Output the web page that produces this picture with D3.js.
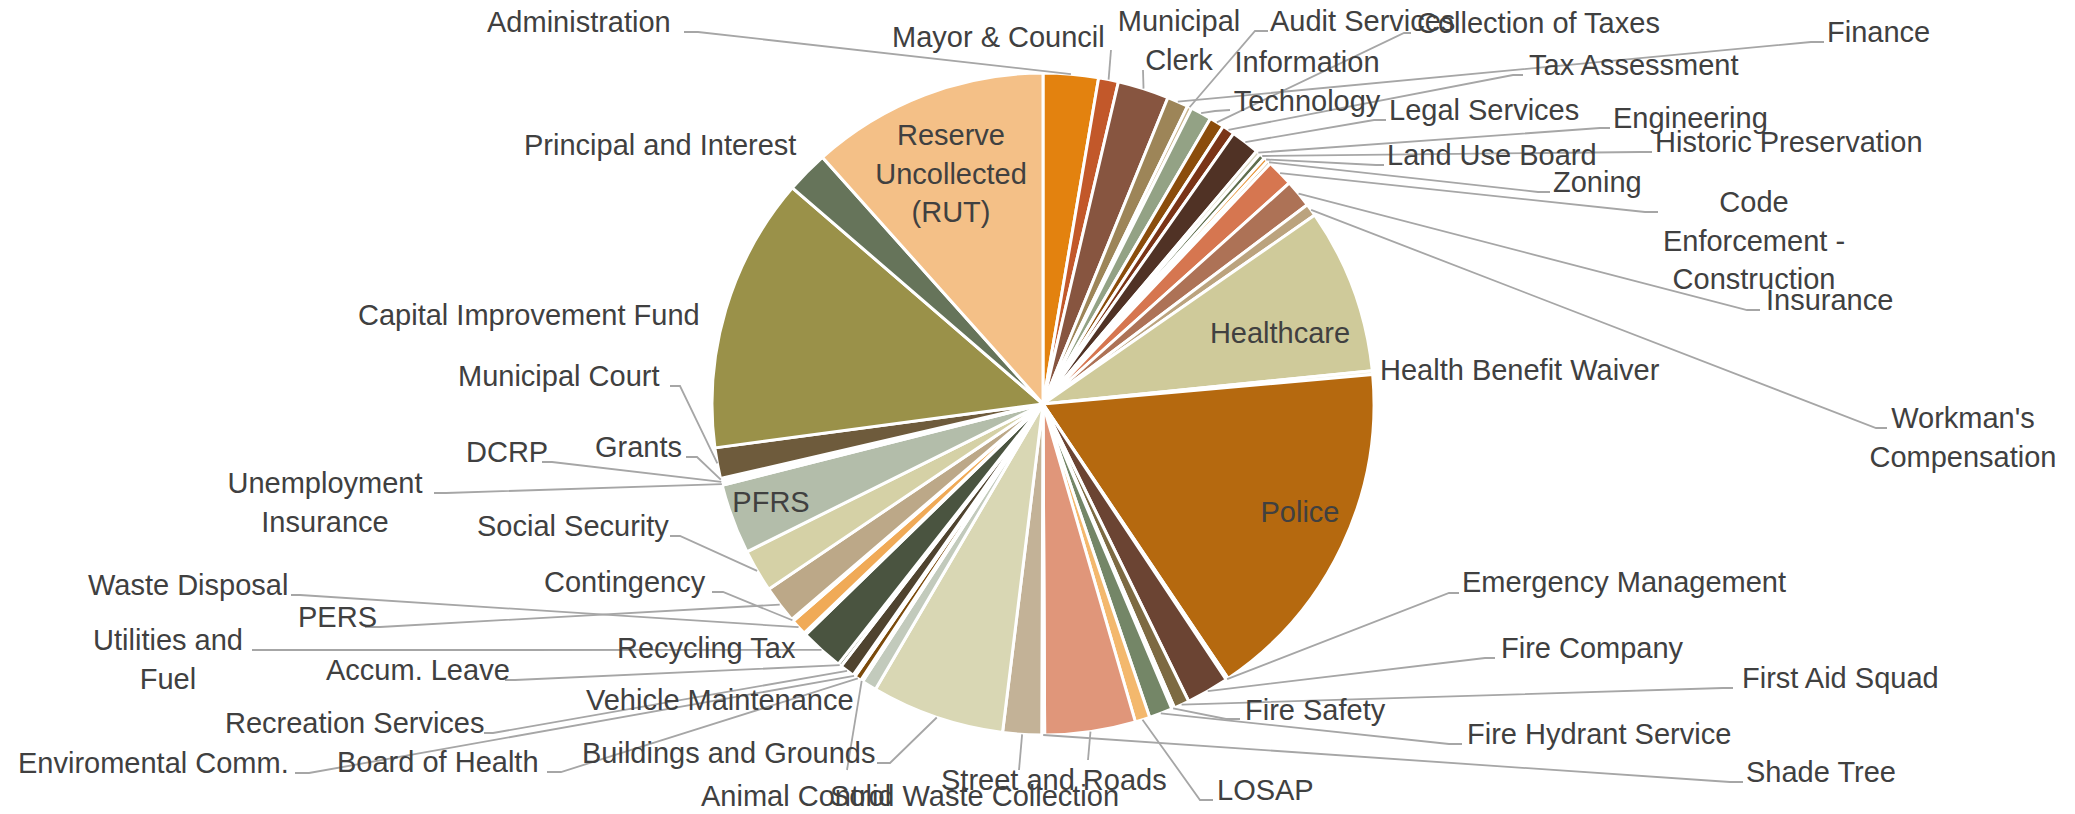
<!DOCTYPE html>
<html><head><meta charset="utf-8">
<script src="https://cdn.jsdelivr.net/npm/d3@7"></script>
<style>html,body{margin:0;padding:0;background:#fff;overflow:hidden;}</style>
</head><body>
<svg id="chart" width="2075" height="814"></svg>
<script>
// ---------- DATA ----------
const categories = [
  "Administration","Mayor & Council","Municipal Clerk","Finance","Audit Services",
  "Information Technology","Collection of Taxes","Tax Assessment","Legal Services","Engineering",
  "Historic Preservation","Land Use Board","Zoning","Code Enforcement - Construction","Insurance",
  "Workman's Compensation","Healthcare","Health Benefit Waiver","Police","Emergency Management",
  "Fire Company","First Aid Squad","Fire Safety","Fire Hydrant Service","LOSAP",
  "Street and Roads","Shade Tree","Solid Waste Collection","Buildings and Grounds","Vehicle Maintenance",
  "Animal Control","Board of Health","Enviromental Comm.","Recreation Services","Accum. Leave",
  "Utilities and Fuel","Recycling Tax","Waste Disposal","Contingency","PERS",
  "Social Security","PFRS","Unemployment Insurance","DCRP","Grants",
  "Municipal Court","Capital Improvement Fund","Principal and Interest","Reserve Uncollected (RUT)"
];
// share of total budget (%)
const values = [
  2.69,0.97,2.50,1.03,0.22,
  1.03,0.72,0.61,1.39,0.22,
  0.28,0.22,0.17,1.31,1.36,
  0.61,8.06,0.19,16.97,0.11,
  2.08,0.75,0.14,1.14,0.72,
  4.42,0.14,1.89,6.50,0.72,
  0.11,0.33,0.11,0.72,0.17,
  2.11,0.11,0.78,0.11,1.83,
  2.08,3.42,0.11,0.11,0.11,
  1.50,13.44,2.06,11.61
];
// label text as displayed (line breaks)
const labelText = [
  "Administration","Mayor & Council","Municipal\nClerk","Finance","Audit Services",
  "Information\nTechnology","Collection of Taxes","Tax Assessment","Legal Services","Engineering",
  "Historic Preservation","Land Use Board","Zoning","Code\nEnforcement -\nConstruction","Insurance",
  "Workman's\nCompensation","Healthcare","Health Benefit Waiver","Police","Emergency Management",
  "Fire Company","First Aid Squad","Fire Safety","Fire Hydrant Service","LOSAP",
  "Street and Roads","Shade Tree","Solid Waste Collection","Buildings and Grounds","Vehicle Maintenance",
  "Animal Control","Board of Health","Enviromental Comm.","Recreation Services","Accum. Leave",
  "Utilities and\nFuel","Recycling Tax","Waste Disposal","Contingency","PERS",
  "Social Security","PFRS","Unemployment\nInsurance","DCRP","Grants",
  "Municipal Court","Capital Improvement Fund","Principal and Interest","Reserve\nUncollected\n(RUT)"
];

// ---------- STYLE ----------
const palette = [
  "#E3820F","#C2582A","#875540","#9D8558","#C9B48C",
  "#93A285","#8B4D0C","#7A3417","#503225","#D8D6C0",
  "#5F6E4D","#E8963A","#C8A060","#D67650","#AD7256",
  "#BBA37E","#CFCA9A","#EDEBD8","#B5690F","#A36A3A",
  "#6B4433","#7D6A42","#B8C4AE","#748667","#F3B86D",
  "#E0967A","#C8B090","#C3B297","#D9D7B4","#C2CABC",
  "#9C7A50","#7B4A0B","#8C7A5A","#4F432F","#3E4A35",
  "#4A5440","#B5A070","#F0AA57","#C9B48E","#BCA888",
  "#D5D1A6","#B3BDAA","#E3C8A0","#C0703A","#A08060",
  "#6E5B3C","#9A9149","#66745A","#F4C087"
];

// ---------- LAYOUT (label anchors & leader stubs) ----------
// [x, firstBaseline, anchor, leaderStubPoints]
const layout = {
  "Administration":[487,32,"start",[[684,32],[698,32]]],
  "Mayor & Council":[892,47,"start",[[1111,50]]],
  "Municipal Clerk":[1179,31,"middle",[[1143,70]]],
  "Finance":[1827,42,"start",[[1824,42],[1811,42]]],
  "Audit Services":[1270,31,"start",[[1268,31],[1255,31]]],
  "Information Technology":[1307,72,"middle",[[1230,110],[1215,111]]],
  "Collection of Taxes":[1417,33,"start",[[1411,33],[1404,33]]],
  "Tax Assessment":[1529,75,"start",[[1523,75],[1513,75]]],
  "Legal Services":[1389,120,"start",[[1386,120],[1374,120]]],
  "Engineering":[1613,128,"start",[[1610,128],[1600,128]]],
  "Historic Preservation":[1655,152,"start",[[1652,152],[1640,152]]],
  "Land Use Board":[1387,165,"start",[[1384,165],[1376,165]]],
  "Zoning":[1553,192,"start",[[1550,192],[1538,192]]],
  "Code Enforcement - Construction":[1754,212,"middle",[[1658,212],[1645,212]]],
  "Insurance":[1766,310,"start",[[1760,310],[1747,310]]],
  "Workman's Compensation":[1963,428,"middle",[[1887,428],[1876,428]]],
  "Healthcare":[1280,343,"middle",null],
  "Health Benefit Waiver":[1380,380,"start",null],
  "Police":[1300,522,"middle",null],
  "Emergency Management":[1462,592,"start",[[1459,593],[1449,593]]],
  "Fire Company":[1501,658,"start",[[1495,658],[1485,658]]],
  "First Aid Squad":[1742,688,"start",[[1733,688],[1723,688]]],
  "Fire Safety":[1245,720,"start",[[1240,719],[1226,719]]],
  "Fire Hydrant Service":[1467,744,"start",[[1462,744],[1449,744]]],
  "LOSAP":[1217,800,"start",[[1213,800],[1200,800]]],
  "Street and Roads":[941,790,"start",[[1088,760]]],
  "Shade Tree":[1746,782,"start",[[1743,782],[1730,782]]],
  "Solid Waste Collection":[830,806,"start",[[1019,770]]],
  "Buildings and Grounds":[582,763,"start",[[877,763],[890,763]]],
  "Vehicle Maintenance":[586,710,"start",null],
  "Animal Control":[701,806,"start",[[847,770]]],
  "Board of Health":[337,772,"start",[[547,772],[561,772]]],
  "Enviromental Comm.":[18,773,"start",[[295,773],[309,773]]],
  "Recreation Services":[225,733,"start",[[484,733],[493,733]]],
  "Accum. Leave":[326,680,"start",[[505,680],[515,680]]],
  "Utilities and Fuel":[168,650,"middle",[[252,650],[262,650]]],
  "Recycling Tax":[617,658,"start",null],
  "PERS":[298,627,"start",[[365,627],[380,627]]],
  "Waste Disposal":[88,595,"start",[[291,595],[300,595]]],
  "Contingency":[544,592,"start",[[712,592],[723,592]]],
  "Social Security":[477,536,"start",[[670,536],[680,536]]],
  "PFRS":[771,512,"middle",null],
  "Unemployment Insurance":[325,493,"middle",[[434,493],[446,493]]],
  "DCRP":[466,462,"start",[[542,462],[552,462]]],
  "Grants":[595,457,"start",[[686,457],[697,457]]],
  "Municipal Court":[458,386,"start",[[670,386],[680,386]]],
  "Capital Improvement Fund":[358,325,"start",null],
  "Principal and Interest":[524,155,"start",null],
  "Reserve Uncollected (RUT)":[951,145,"middle",null]
};

const W = 2075, H = 814;
const cx = 1043, cy = 404, R = 331;
const lineGap = 38.5;

const svg = d3.select("#chart");
const g = svg.append("g").attr("transform", `translate(${cx},${cy})`);

const color = d3.scaleOrdinal().domain(categories).range(palette);

const pie = d3.pie().sort(null).value(d => d.value).startAngle(0).endAngle(2 * Math.PI);
const data = categories.map((c, i) => ({ name: c, value: values[i], text: labelText[i] }));
const arcs = pie(data);

const arc = d3.arc().innerRadius(0).outerRadius(R);
const edge = d3.arc().innerRadius(R).outerRadius(R);

g.selectAll("path.slice").data(arcs).join("path")
  .attr("class", "slice")
  .attr("d", arc)
  .attr("fill", d => color(d.data.name))
  .attr("stroke", "#fff")
  .attr("stroke-width", 3)
  .attr("stroke-linejoin", "round");

// leader lines
const lineGen = d3.line();
const leaders = svg.append("g");
arcs.forEach(d => {
  const L = layout[d.data.name];
  if (!L || !L[3]) return;
  const p = edge.centroid(d);
  const pts = L[3].concat([[p[0] + cx, p[1] + cy]]);
  leaders.append("path")
    .attr("d", lineGen(pts))
    .attr("fill", "none")
    .attr("stroke", "#A6A6A6")
    .attr("stroke-width", 1.8);
});

// labels
const labels = svg.append("g")
  .attr("font-family", "'Liberation Sans', Arial, sans-serif")
  .attr("font-size", 29)
  .attr("fill", "#404040");
arcs.forEach(d => {
  const L = layout[d.data.name];
  if (!L) return;
  const t = labels.append("text").attr("text-anchor", L[2]);
  d.data.text.split("\n").forEach((s, i) => {
    t.append("tspan").attr("x", L[0]).attr("y", L[1] + i * lineGap).text(s);
  });
});
</script>
</body></html>
